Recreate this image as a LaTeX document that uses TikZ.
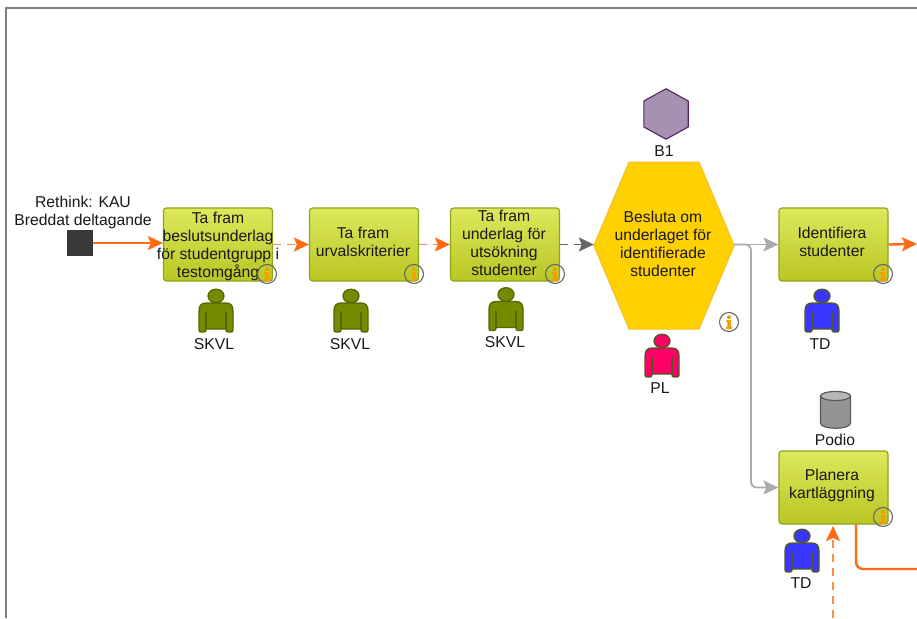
\documentclass[tikz,border=0pt]{standalone}
\usepackage{fontspec}
\setmainfont{Liberation Sans}
\usetikzlibrary{arrows.meta}
\definecolor{orangeline}{HTML}{FF6A13}
\definecolor{orangedash}{HTML}{FF8A4A}
\definecolor{greyline}{HTML}{ABABAB}
\definecolor{darkline}{HTML}{666666}
\definecolor{boxtop}{HTML}{DDE85C}
\definecolor{boxbot}{HTML}{B9C622}
\definecolor{boxedge}{HTML}{8FA51A}
\definecolor{hexfill}{HTML}{FFD100}
\definecolor{hexedge}{HTML}{F5BE2A}
\definecolor{bfill}{HTML}{A592B2}
\definecolor{bedge}{HTML}{5A2060}
\definecolor{olive}{HTML}{768A00}
\definecolor{oliveedge}{HTML}{556500}
\definecolor{blueman}{HTML}{3A35FF}
\definecolor{pinkman}{HTML}{FF0066}
\definecolor{manedge}{HTML}{4F5A20}
\definecolor{infoi}{HTML}{F0A000}
\tikzset{
  x=1pt,y=-1pt,
  txt/.style={font=\fontsize{15.7}{18}\selectfont,align=center,inner sep=0pt,text=black!90},
  taskbox/.style={draw=boxedge,line width=1.2pt,rounded corners=3pt,top color=boxtop,bottom color=boxbot,
    minimum width=109pt,minimum height=73pt,inner sep=0pt},
  flowsolid/.style={-{Stealth[length=15pt,width=14pt,inset=3pt]},draw=orangeline,line width=2.4pt},
  flowdash/.style={-{Stealth[length=15pt,width=14pt,inset=3pt,color=orangeline]},draw=orangedash,line width=1.8pt,dash pattern=on 8pt off 6pt},
  flowgrey/.style={-{Stealth[length=15pt,width=14pt,inset=3pt]},draw=greyline,line width=1.8pt},
  flowdark/.style={-{Stealth[length=15pt,width=14pt,inset=3pt]},draw=darkline,line width=1.6pt,dash pattern=on 8pt off 6pt},
  pics/person/.style 2 args={code={
    \draw[fill=#1,draw=#2,line width=1.3pt,line join=round]
      (-10,0) .. controls (-15,0) and (-17,3) .. (-17,8) -- (-17,27)
      .. controls (-17,29) and (-16,29) .. (-14,29) -- (-12,29)
      .. controls (-10,29) and (-10,28) .. (-10,26) -- (10,26)
      .. controls (10,28) and (10,29) .. (12,29) -- (14,29)
      .. controls (16,29) and (17,29) .. (17,27) -- (17,8)
      .. controls (17,3) and (15,0) .. (10,0) -- cycle;
    \draw[draw=#2,line width=1.1pt] (-10,9) -- (-10,26) (10,9) -- (10,26);
    \draw[fill=#1,draw=#2,line width=1.3pt] (0,-7) ellipse [x radius=8,y radius=6.8];
  }},
  pics/info/.style={code={
    \draw[draw=darkline,line width=1.1pt,fill=#1] (0,0) circle [radius=9.5];
    \fill[infoi] (0,-4.8) circle [radius=2];
    \fill[infoi] (-2.6,-1.8) -- (1.8,-1.8) -- (1.8,4.6) -- (3,4.6) -- (3,7) -- (-3,7) -- (-3,4.6) -- (-1.6,4.6) -- (-1.6,0.2) -- (-2.6,0.2) -- cycle;
  }},
  pics/info/.default={none},
}
\begin{document}
\begin{tikzpicture}
\useasboundingbox (0,0) rectangle (917,618);
\fill[white] (0,0) rectangle (917,618);
% frame
\draw[draw=gray,line width=2pt] (917,8) -- (6,8) -- (6,618);

% start
\node[fill=black!78,minimum size=26pt,inner sep=0pt] (start) at (80,243) {};
\node[txt] (startlabel) at (83,212) {Rethink: KAU\\Breddat deltagande};

% tasks
\node[taskbox] (b1) at (218,244.5) {};
\node[taskbox] (b2) at (364,244.5) {};
\node[taskbox] (b3) at (505,244.5) {};
\node[taskbox] (b4) at (833.5,244.5) {};
\node[taskbox] (b5) at (833.5,487.5) {};

% decision hexagon
\node[minimum width=140pt,minimum height=167pt,inner sep=0pt] (h) at (664,245.5) {};
\draw[fill=hexfill,draw=hexedge,line width=1pt]
  (h.west) -- (629,162) -- (699,162) -- (h.east) -- (699,329) -- (629,329) -- cycle;

% B1 hexagon
\node[minimum width=44pt,minimum height=50pt,inner sep=0pt] (bh) at (666,114) {};
\draw[fill=bfill,draw=bedge,line width=1.1pt]
  (bh.north) -- (bh.north east |- 0,101) -- (bh.south east |- 0,127) -- (bh.south) -- (bh.south west |- 0,127) -- (bh.north west |- 0,101) -- cycle;

% free ends
\coordinate (e1) at (917,244);
\coordinate (e2) at (917,569);
\coordinate (b5out) at (856,524);
\coordinate (upfrom) at (833,618);
\coordinate (upto) at (833,526);

% connectors
\draw[flowsolid] (start.east) -- (start.east -| b1.west);
\draw[flowdash] (b1.east) -- (b2.west);
\draw[flowdash] (b2.east) -- (b3.west);
\draw[flowdark] (b3.east) -- (h.west |- b3.east);
\draw[flowgrey] (h.east |- b4.west) -- (b4.west);
\draw[flowgrey,rounded corners=5pt] (h.east |- b4.west) -- (751,244.5) |- (b5.west);
\draw[flowsolid] (b4.east) -- (e1);
\draw[draw=orangeline,line width=2.4pt,rounded corners=7pt] (b5out) |- (e2);
\draw[flowdash] (upfrom) -- (upto);

% task texts
\node[txt] (t1) at (218,246) {Ta fram\\beslutsunderlag\\för studentgrupp i\\testomgång};
\node[txt] (t2) at (363,242) {Ta fram\\urvalskriterier};
\node[txt] (t3) at (504,243) {Ta fram\\underlag för\\utsökning\\studenter};
\node[txt] (t4) at (663,244) {Besluta om\\underlaget för\\identifierade\\studenter};
\node[txt] (t5) at (832,242) {Identifiera\\studenter};
\node[txt] (t6) at (832,485) {Planera\\kartläggning};

% info icons
\pic at (267,274) {info};
\pic at (414,274) {info};
\pic at (555,274) {info};
\pic at (883,274) {info};
\pic at (883,517) {info};
\pic at (729,322) {info=white};

% people
\pic at (216,303) {person={olive}{oliveedge}};
\pic at (351,303) {person={olive}{oliveedge}};
\pic at (506,301.5) {person={olive}{oliveedge}};
\pic at (662,348) {person={pinkman}{manedge}};
\pic at (822,303) {person={blueman}{manedge}};
\pic at (802,543) {person={blueman}{manedge}};

% datastore
\node[minimum width=30pt,minimum height=37pt,inner sep=0pt] (db) at (835.5,409.5) {};
\draw[fill=black!42,draw=black!65,line width=1.2pt]
  (820.5,396) -- (820.5,423) .. controls (820.5,430) and (850.5,430) .. (850.5,423) -- (850.5,396) -- cycle;
\draw[fill=black!28,draw=black!65,line width=1.2pt] (835.5,396) ellipse [x radius=15,y radius=4.5];

% labels
\node[txt] (l1) at (214,344) {SKVL};
\node[txt] (l2) at (350,344) {SKVL};
\node[txt] (l3) at (505,342) {SKVL};
\node[txt] (l4) at (660,388) {PL};
\node[txt] (l5) at (820,344) {TD};
\node[txt] (l6) at (801,583) {TD};
\node[txt] (l7) at (835,440) {Podio};
\node[txt] (l8) at (664,151) {B1};
\end{tikzpicture}
\end{document}
